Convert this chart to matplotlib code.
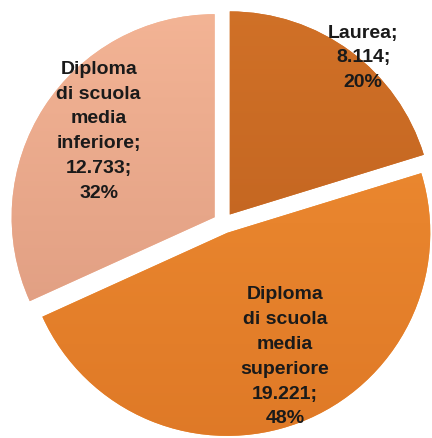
import numpy as np
import matplotlib
matplotlib.use("Agg")
import matplotlib.pyplot as plt
from matplotlib.colors import LinearSegmentedColormap

# Titolo di studio: valori assoluti e quote
categories = ["Laurea;", "Diploma\ndi scuola\nmedia\nsuperiore", "Diploma\ndi scuola\nmedia\ninferiore;"]
values = [8114, 19221, 12733]
value_labels = ["8.114", "19.221", "12.733"]
percent_labels = ["20%", "48%", "32%"]

# gradient colours per slice (top, bottom)
grad_colors = [("#D27228", "#B85C1C"), ("#F29034", "#DE7826"), ("#F5B697", "#D8957A")]

XLIM = (-1.101, 1.027)
YLIM = (-1.059, 1.103)

fig = plt.figure(figsize=(4.32, 4.39), dpi=100)
ax = fig.add_axes([0, 0, 1, 1])
ax.axis("off")

wedges, _ = ax.pie(values, startangle=90, counterclock=False, radius=1.0,
                   explode=[0.052, 0.052, 0.052], colors=[c[0] for c in grad_colors],
                   wedgeprops=dict(linewidth=0))

# vertical shading clipped to each wedge
for w, (ctop, cbot) in zip(wedges, grad_colors):
    cmap = LinearSegmentedColormap.from_list("g", [cbot, ctop])
    grad = np.linspace(0, 1, 256).reshape(-1, 1)
    im = ax.imshow(grad, cmap=cmap, extent=(-1.2, 1.2, -1.2, 1.2), origin="lower",
                   aspect="auto", zorder=w.get_zorder() + 0.1)
    im.set_clip_path(w)

ax.set_xlim(*XLIM)
ax.set_ylim(*YLIM)
ax.set_aspect("auto")

# labels positioned along each slice's mid-angle
total = sum(values)
label_dist = [1.069, 0.721, 0.766]
angle_shift = [-3.6, 4.1, -3.8]
start = 90.0
for i, v in enumerate(values):
    span = 360.0 * v / total
    mid = np.deg2rad(start - span / 2 + angle_shift[i])
    start -= span
    txt = f"{categories[i]}\n{value_labels[i]};\n{percent_labels[i]}"
    d = label_dist[i]
    ax.text(d * np.cos(mid), d * np.sin(mid), txt, ha="center", va="center",
            fontsize=14, fontweight="bold", family="Liberation Sans",
            color="#1A1A1A", linespacing=1.6, zorder=10)

fig.savefig("out.png", dpi=100)
